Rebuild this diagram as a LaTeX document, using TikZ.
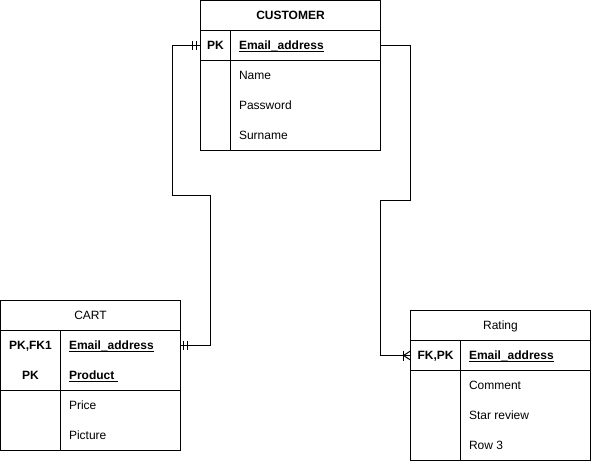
\documentclass[tikz,border=0pt]{standalone}
\usepackage{fontspec}
\setmainfont{Liberation Sans}
\newcommand\ulx[1]{\setbox0\hbox{#1}\rlap{\rule[-2.2pt]{\wd0}{0.9pt}}\box0}
\begin{document}
\begin{tikzpicture}[x=1pt,y=-1pt,line width=1pt,
  font=\fontsize{12}{14}\selectfont,
  row/.style={draw,minimum width=180pt,minimum height=30pt,inner sep=0pt,text height=10.9pt,text depth=2.5pt},
  key/.style={font=\fontsize{12}{14}\selectfont\bfseries,inner sep=0pt,text height=10.9pt,text depth=2.5pt},
  fld/.style={anchor=west,inner sep=0pt,text height=10.9pt,text depth=2.5pt},
  conn/.style={line width=1pt},
  tickmark/.style={line width=1pt}]
\useasboundingbox (-0.5,-0.5) rectangle (590.5,460.5);

% CUSTOMER
\node[row] (custH) at (290,15) {\bfseries CUSTOMER};
\node[row] (custK) at (290,45) {};
\node[row,minimum height=90pt] (custA) at (290,105) {};
\draw ([xshift=30pt]custK.north west) -- ([xshift=30pt]custA.south west);
\node[key] (custPK) at (215,45) {PK};
\node[fld,font=\fontsize{12}{14}\selectfont\bfseries] (custEmail) at (238,45) {\ulx{Email\_address}};
\node[fld] (custName) at (238,75) {Name};
\node[fld] (custPass) at (238,105) {Password};
\node[fld] (custSur) at (238,135) {Surname};

% CART
\node[row] (cartH) at (90,315) {CART};
\node[row,minimum height=60pt] (cartK) at (90,360) {};
\node[row,draw=none] (cartK1) at (90,345) {};
\node[row,minimum height=60pt] (cartA) at (90,420) {};
\draw ([xshift=60pt]cartK.north west) -- ([xshift=60pt]cartA.south west);
\node[key] (cartPK1) at (30,345) {PK,FK1};
\node[key] (cartPK2) at (30,375) {PK};
\node[fld,font=\fontsize{12}{14}\selectfont\bfseries] (cartEmail) at (68,345) {\ulx{Email\_address}};
\node[fld,font=\fontsize{12}{14}\selectfont\bfseries] (cartProd) at (68,375) {\ulx{Product\ }};
\node[fld] (cartPrice) at (68,405) {Price};
\node[fld] (cartPic) at (68,435) {Picture};

% Rating
\node[row] (rateH) at (500,325) {Rating};
\node[row] (rateK) at (500,355) {};
\node[row,minimum height=90pt] (rateA) at (500,415) {};
\draw ([xshift=50pt]rateK.north west) -- ([xshift=50pt]rateA.south west);
\node[key] (ratePK) at (435,355) {FK,PK};
\node[fld,font=\fontsize{12}{14}\selectfont\bfseries] (rateEmail) at (468,355) {\ulx{Email\_address}};
\node[fld] (rateCom) at (468,385) {Comment};
\node[fld] (rateStar) at (468,415) {Star review};
\node[fld] (rateRow) at (468,445) {Row 3};

% connector CUSTOMER -- CART
\coordinate (a1) at (172,45);
\coordinate (a2) at (172,195);
\coordinate (a3) at (210,195);
\coordinate (a4) at (210,345);
\draw[conn] (custK.west) -- (a1) -- (a2) -- (a3) -- (a4) -- (cartK1.east);
\draw[tickmark] (192,40.5) -- (192,49.5);
\draw[tickmark] (195.5,40.5) -- (195.5,49.5);
\draw[tickmark] (183,340.5) -- (183,349.5);
\draw[tickmark] (186.5,340.5) -- (186.5,349.5);

% connector CUSTOMER -- Rating
\coordinate (b1) at (410,45);
\coordinate (b2) at (410,200);
\coordinate (b3) at (380,200);
\coordinate (b4) at (380,355);
\draw[conn] (custK.east) -- (b1) -- (b2) -- (b3) -- (b4) -- (rateK.west);
\draw[tickmark] (402.5,350) -- (402.5,360);
\draw[tickmark] (410,350.5) -- (403,355) -- (410,359.5);
\end{tikzpicture}
\end{document}
